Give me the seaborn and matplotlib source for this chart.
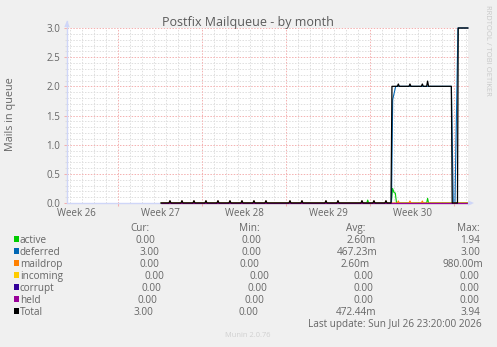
import numpy as np
import pandas as pd
import matplotlib
matplotlib.use("Agg")
import matplotlib.pyplot as plt
from matplotlib.patches import Rectangle, Polygon
from matplotlib.lines import Line2D
import seaborn as sns

# ------------------------------------------------------------------
# DATA  (x = days since the left edge of the one-month window)
# ------------------------------------------------------------------
data_start, data_end = 7.83, 33.42

# small daily spikes (queue briefly non-empty) before the big event
spike_days = [8.58, 9.58, 10.58, 11.58, 12.58, 13.58, 14.58, 15.58,
              16.58, 18.58, 19.58, 21.58, 22.58, 24.58, 25.58, 26.58]
spike_total = [0.04, 0.04, 0.04, 0.04, 0.04, 0.04, 0.04, 0.04,
               0.04, 0.04, 0.04, 0.04, 0.04, 0.04, 0.04, 0.04]
spike_maildrop = [0.035, 0.035, 0.035, 0.035, 0.035, 0.035, 0.035, 0.035,
                  0.035, 0.035, 0.035, 0.035, 0.035, 0.035, 0.035, 0.035]

# maildrop spikes during the deferred plateau
maildrop_late_days = [27.61, 28.58, 29.61]
maildrop_late_vals = [0.035, 0.035, 0.035]

# Total after the spikes
total_tail_t = [27.00, 27.08, 27.53, 27.61, 27.69, 28.50, 28.58, 28.66,
                29.53, 29.61, 29.69, 29.97, 30.05, 30.13, 32.03, 32.10,
                32.54, 32.60, 33.42]
total_tail_v = [0.00, 2.00, 2.00, 2.04, 2.00, 2.00, 2.04, 2.00,
                2.00, 2.04, 2.00, 2.00, 2.09, 2.00, 2.00, 0.00,
                0.00, 3.00, 3.00]

# deferred
deferred_t = [7.83, 27.04, 27.14, 27.39, 32.03, 32.19, 32.33, 32.58, 33.42]
deferred_v = [0.00, 0.00, 1.77, 2.00, 2.00, 0.00, 0.00, 3.00, 3.00]

# active
active_t = [7.83, 24.98, 25.06, 25.14, 27.02, 27.13, 27.25, 27.36, 27.46,
            29.97, 30.05, 30.13, 33.42]
active_v = [0.00, 0.00, 0.05, 0.00, 0.00, 0.25, 0.18, 0.17, 0.00,
            0.00, 0.08, 0.00, 0.00]

# empty queues
flat_t = [7.83, 33.42]
incoming_v = [0.00, 0.00]
corrupt_v = [0.00, 0.00]
held_v = [0.00, 0.00]

week_labels = ["Week 26", "Week 27", "Week 28", "Week 29", "Week 30"]
week_label_pos = [0.75, 7.75, 14.75, 21.75, 28.75]
week_starts = [4.25, 11.25, 18.25, 25.25, 32.25]

legend_names = ["active", "deferred", "maildrop", "incoming", "corrupt", "held", "Total"]
legend_colors = ["#00CC00", "#0066B3", "#FF8000", "#FFCC00", "#330099", "#990099", "#000000"]
cur_vals = ["0.00", "3.00", "0.00", "0.00", "0.00", "0.00", "3.00"]
min_vals = ["0.00", "0.00", "0.00", "0.00", "0.00", "0.00", "0.00"]
avg_vals = ["2.60m", "467.23m", "2.60m", "0.00", "0.00", "0.00", "472.44m"]
max_vals = ["1.94", "3.00", "980.00m", "0.00", "0.00", "0.00", "3.94"]

# ------------------------------------------------------------------
def spikes(days, vals, hw=0.083):
    t, v = [], []
    for d, h in zip(days, vals):
        t += [d - hw, d, d + hw]
        v += [0.0, h, 0.0]
    return t, v

st, sv = spikes(spike_days, spike_total)
total_t = [data_start] + st + total_tail_t
total_v = [0.0] + sv + total_tail_v

mt1, mv1 = spikes(spike_days, spike_maildrop)
mt2, mv2 = spikes(maildrop_late_days, maildrop_late_vals)
maildrop_t = [data_start] + mt1 + mt2 + [data_end]
maildrop_v = [0.0] + mv1 + mv2 + [0.0]

series = [
    ("active", active_t, active_v),
    ("deferred", deferred_t, deferred_v),
    ("maildrop", maildrop_t, maildrop_v),
    ("incoming", flat_t, incoming_v),
    ("corrupt", flat_t, corrupt_v),
    ("held", flat_t, held_v),
    ("Total", total_t, total_v),
]

# ------------------------------------------------------------------
sns.set_style("white")
plt.rcParams["font.family"] = ["Open Sans", "DejaVu Sans"]

W, H = 497, 347
BG = "#F0F0F0"
FONT_C = "#666666"
AXIS_C = "#CFD6F8"
MGRID = "#F4B0B0"
GRID = "#DEDEDE"

fig = plt.figure(figsize=(W / 100, H / 100), dpi=100, facecolor=BG)

L, R, T, B = 67, 468, 28, 203
ax = fig.add_axes([L / W, 1 - B / H, (R - L) / W, (B - T) / H])
ax.set_facecolor("white")
for s in ax.spines.values():
    s.set_visible(False)

X_END = (R - L) / 12.0
ax.set_xlim(0, X_END)
ax.set_ylim(0, 3)

# grid
DOT = (0, (1.5, 1.5))
for d in np.arange(0.25, X_END, 1.0):
    if not any(abs(d - w) < 1e-6 for w in week_starts):
        ax.axvline(d, color=GRID, lw=0.7, ls=DOT, zorder=0.5)
for w in week_starts:
    ax.axvline(w, color=MGRID, lw=0.7, ls=DOT, zorder=0.6)
for yv in np.arange(0.1, 3.01, 0.1):
    if abs(yv / 0.5 - round(yv / 0.5)) > 1e-6:
        ax.axhline(yv, color=GRID, lw=0.7, ls=DOT, zorder=0.5)
for yv in np.arange(0.5, 3.01, 0.5):
    ax.axhline(yv, color=MGRID, lw=0.7, ls=DOT, zorder=0.6, clip_on=False)

# axis lines (below data)
ax.axhline(0, color=AXIS_C, lw=1.0, zorder=1.5, clip_on=False)
ax.axvline(0, color=AXIS_C, lw=1.0, zorder=1.5, clip_on=False)

# data
for (name, t, v), col in zip(series, legend_colors):
    df = pd.DataFrame({"t": t, "v": v})
    sns.lineplot(data=df, x="t", y="v", ax=ax, color=col,
                 lw=0.8 if name != "Total" else 0.9,
                 estimator=None, sort=False, legend=False, zorder=3)
for ln in ax.lines[-len(series):]:
    ln.set_clip_on(False)

ax.set_xlabel("")
ax.set_ylabel("")

# ticks
ax.set_xticks(week_label_pos)
ax.set_xticklabels(week_labels)
ax.set_xticks(week_starts, minor=True)
ax.set_yticks(np.arange(0, 3.01, 0.5))
ax.set_yticklabels([f"{v:.1f}" for v in np.arange(0, 3.01, 0.5)])
ax.set_yticks(np.arange(0, 3.01, 0.1), minor=True)
ax.tick_params(axis="x", which="major", length=0, pad=3.5, labelsize=7, labelcolor=FONT_C)
ax.tick_params(axis="x", which="minor", length=2, width=0.75, color=MGRID, bottom=True)
ax.tick_params(axis="y", which="major", length=2.2, width=0.75, color=MGRID,
               pad=2.8, labelsize=7, labelcolor=FONT_C, left=True)
ax.tick_params(axis="y", which="minor", length=1.5, width=0.75, color=GRID, left=True)


def fx(px):
    return px / W


def fy(py):
    return 1 - py / H


# axis extensions and arrows
fig.add_artist(Line2D([fx(67), fx(67)], [fy(28), fy(21)], color=AXIS_C, lw=1.0))
fig.add_artist(Line2D([fx(468), fx(471)], [fy(203), fy(203)], color=AXIS_C, lw=1.0))
fig.add_artist(Polygon([[fx(64.3), fy(27)], [fx(69.7), fy(27)], [fx(67), fy(20.5)]],
                       closed=True, color=AXIS_C, lw=0))
fig.add_artist(Polygon([[fx(468), fy(200.3)], [fx(468), fy(205.7)], [fx(474), fy(203)]],
                       closed=True, color=AXIS_C, lw=0))

# titles
fig.text(fx(248), fy(26), "Postfix Mailqueue - by month", ha="center", va="baseline",
         fontsize=9, color="#5A5A5A")
fig.text(fx(10.5), fy(114.5), "Mails in queue", rotation=90, ha="center", va="center",
         fontsize=7.8, color=FONT_C)
fig.text(fx(487.5), fy(5), "RRDTOOL / TOBI OETIKER", rotation=270, ha="center", va="top",
         fontsize=5.5, color="#C8C8C8")

# legend
LEG_FS = 7.2
BASE_OFF = 3.6


def lt(xp, yc, s, **kw):
    fig.text(fx(xp), fy(yc + BASE_OFF), s, ha="left", va="baseline",
             fontsize=LEG_FS, color=FONT_C, **kw)


header_y = 227.3
lt(130.5, header_y, "Cur:")
lt(239.0, header_y, "Min:")
lt(345.5, header_y, "Avg:")
lt(457.0, header_y, "Max:")

row_y = [239.0, 251.2, 263.2, 275.0, 287.0, 299.0, 311.0]
cur_x = [136.0, 139.3, 139.3, 144.7, 141.7, 137.3, 133.3]
min_x = [241.0, 241.0, 239.3, 249.3, 247.7, 244.3, 238.3]
avg_x = [346.5, 336.7, 341.0, 353.7, 353.3, 353.3, 335.5]
max_x = [460.5, 460.5, 442.5, 460.0, 460.0, 460.0, 460.5]

for i, name in enumerate(legend_names):
    yc = row_y[i]
    fig.add_artist(Rectangle((fx(14), fy(yc + 2.6)), 5.4 / W, 5.4 / H,
                             color=legend_colors[i], lw=0))
    lt(19.8, yc, name)
    lt(cur_x[i], yc, cur_vals[i])
    lt(min_x[i], yc, min_vals[i])
    lt(avg_x[i], yc, avg_vals[i])
    lt(max_x[i], yc, max_vals[i])

lt(307.7, 323.0, "Last update: Sun Jul 26 23:20:00 2026")
fig.text(fx(225), fy(334 + 2.8), "Munin 2.0.76", ha="left", va="baseline",
         fontsize=5.4, color="#D0D0D0")

fig.savefig("out.png", dpi=100, facecolor=BG)
